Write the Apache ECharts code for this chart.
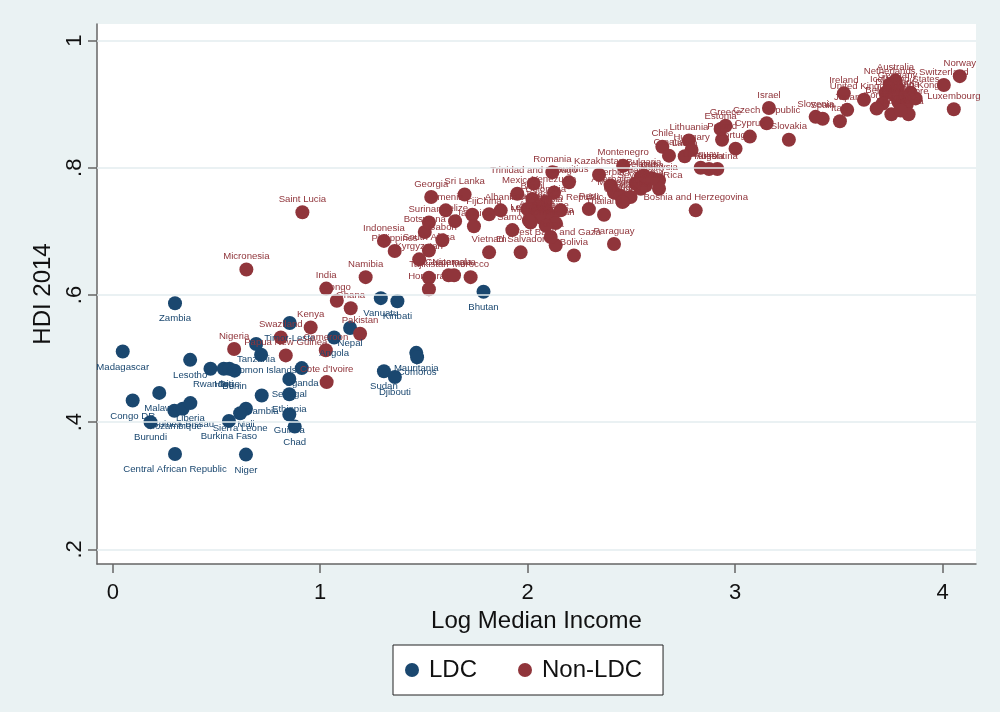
<!DOCTYPE html>
<html><head><meta charset="utf-8">
<script src="https://cdn.jsdelivr.net/npm/echarts@6/dist/echarts.min.js"></script>
<style>html,body{margin:0;padding:0;background:#EAF2F3}#c{width:1000px;height:712px}</style>
</head><body><div id="c"></div>
<script>
const xTicks = [0, 1, 2, 3, 4];
const yTicks = [0.2, 0.4, 0.6, 0.8, 1];
const seriesNames = ['LDC', 'Non-LDC'];

const ldcNames = ['Zambia','Madagascar','Lesotho','Rwanda','Haiti','Togo','Benin','Tanzania','Solomon Islands','Timor-Leste','Angola','Nepal','Uganda','Senegal','Ethiopia','Gambia','Mali','Sierra Leone','Burkina Faso','Guinea','Chad','Niger','Central African Republic','Malawi','Congo DR','Burundi','Mozambique','Guinea-Bissau','Liberia','Vanuatu','Kiribati','Mauritania','Comoros','Sudan','Djibouti','Bhutan'];
const ldcX = [0.300,0.048,0.373,0.471,0.535,0.562,0.587,0.691,0.715,0.853,1.067,1.144,0.911,0.851,0.851,0.718,0.642,0.614,0.560,0.851,0.877,0.642,0.300,0.224,0.096,0.182,0.297,0.337,0.374,1.292,1.372,1.463,1.467,1.307,1.360,1.787];
const ldcY = [0.587,0.511,0.498,0.484,0.484,0.484,0.481,0.523,0.506,0.556,0.533,0.548,0.485,0.468,0.444,0.442,0.421,0.414,0.402,0.412,0.393,0.349,0.350,0.446,0.434,0.400,0.418,0.421,0.430,0.595,0.590,0.509,0.502,0.480,0.471,0.605];

const nonNames = ['Nigeria','Swaziland','Papua New Guinea','Kenya','Cameroon',"Cote d'Ivoire",'India','Congo','Ghana','Pakistan','Namibia','Micronesia','Saint Lucia','Indonesia','Philippines','Kyrgyzstan','South Africa','Tajikistan','Honduras','Botswana','Suriname','Gabon','Georgia','Armenia','Sri Lanka','Belize','Fiji','China','Albania','Guatemala','Nicaragua','Morocco','Jamaica','Vietnam','El Salvador','Samoa','Dominican Republic','Mexico','Trinidad and Tobago','Romania','Venezuela','Mauritius','Brazil','West Bank and Gaza','Bolivia','Paraguay','Peru','Thailand','Kazakhstan','Montenegro','Serbia','Bulgaria','Malaysia','Costa Rica','Bosnia and Herzegovina','Chile','Lithuania','Hungary','Latvia','Croatia','Russia','Uruguay','Argentina','Poland','Estonia','Greece','Portugal','Cyprus','Czech Republic','Israel','Slovakia','Slovenia','Spain','Italy','Japan','Ireland','United Kingdom','Norway','Switzerland','Luxembourg','Australia','Netherlands','Germany','Denmark','United States','Canada','Sweden','Iceland','Singapore','Belgium','Austria','France','Finland','Hong Kong','Korea','Colombia','Ecuador','Jordan','Tunisia','Algeria','Egypt','Ukraine','Mongolia','Moldova','Turkmenistan','Tonga','Lebanon','Azerbaijan','Macedonia','Turkey','Iran','Belarus','Panama','Cuba','Seychelles','Barbados','Grenada'];
const nonX = [0.585,0.810,0.834,0.954,1.027,1.031,1.029,1.080,1.147,1.192,1.219,0.644,0.914,1.307,1.359,1.477,1.524,1.524,1.524,1.504,1.524,1.589,1.535,1.605,1.696,1.650,1.733,1.814,1.870,1.619,1.645,1.725,1.741,1.814,1.966,1.926,2.159,1.950,2.029,2.119,2.127,2.199,2.023,2.135,2.223,2.416,2.295,2.368,2.344,2.460,2.400,2.560,2.633,2.633,2.810,2.649,2.777,2.790,2.757,2.681,2.874,2.834,2.914,2.937,2.930,2.954,3.002,3.071,3.152,3.163,3.259,3.388,3.422,3.505,3.540,3.524,3.621,4.083,4.006,4.054,3.773,3.745,3.783,3.769,3.846,3.807,3.788,3.725,3.827,3.711,3.836,3.753,3.798,3.870,3.682,2.087,1.999,2.054,2.095,2.030,2.071,2.119,2.014,2.135,2.087,2.111,2.006,2.416,2.448,2.464,2.520,2.545,2.569,2.601,2.545,2.496,2.457];
const nonY = [0.515,0.533,0.505,0.549,0.513,0.463,0.610,0.591,0.579,0.539,0.628,0.640,0.730,0.685,0.669,0.656,0.670,0.627,0.609,0.699,0.714,0.686,0.754,0.733,0.758,0.716,0.726,0.727,0.733,0.631,0.631,0.628,0.708,0.667,0.667,0.702,0.733,0.759,0.775,0.793,0.761,0.777,0.751,0.678,0.662,0.680,0.735,0.726,0.789,0.803,0.772,0.788,0.780,0.767,0.733,0.833,0.843,0.828,0.818,0.819,0.798,0.800,0.798,0.844,0.861,0.866,0.830,0.849,0.870,0.894,0.844,0.880,0.877,0.873,0.891,0.917,0.907,0.944,0.930,0.892,0.937,0.931,0.925,0.914,0.918,0.910,0.903,0.918,0.899,0.901,0.884,0.884,0.890,0.909,0.893,0.746,0.735,0.738,0.730,0.722,0.720,0.721,0.714,0.713,0.709,0.691,0.717,0.761,0.756,0.748,0.775,0.785,0.772,0.783,0.767,0.754,0.746];

const NAVY = '#1a476f', MAROON = '#90353b';
const FONT = '"Liberation Sans", Arial, Helvetica, sans-serif';

const chart = echarts.init(document.getElementById('c'), null, {renderer: 'canvas'});
function mk(names, xs, ys) { return names.map((n, i) => [xs[i], ys[i], n]); }

chart.setOption({
  animation: false,
  backgroundColor: '#EAF2F3',
  textStyle: {fontFamily: FONT},
  grid: {left: 97, right: 24, top: 24, bottom: 148, show: true, backgroundColor: '#ffffff', borderWidth: 0, containLabel: false},
  xAxis: {
    type: 'value', min: -0.076, max: 4.161,
    name: 'Log Median Income', nameLocation: 'middle', nameGap: 44,
    nameTextStyle: {fontSize: 24, color: '#111', fontFamily: FONT},
    axisLine: {show: true, onZero: false, lineStyle: {color: '#666', width: 1.5}},
    axisTick: {show: true, customValues: xTicks, length: 9, lineStyle: {color: '#666', width: 1.5}},
    axisLabel: {customValues: xTicks, fontSize: 22, color: '#111', margin: 18, fontFamily: FONT},
    splitLine: {show: false}
  },
  yAxis: {
    type: 'value', min: 0.177, max: 1.026,
    name: 'HDI 2014', nameLocation: 'middle', nameGap: 42, nameRotate: 90,
    nameTextStyle: {fontSize: 24, color: '#111', fontFamily: FONT},
    axisLine: {show: true, onZero: false, lineStyle: {color: '#666', width: 1.5}},
    axisTick: {show: true, customValues: yTicks, length: 9, lineStyle: {color: '#666', width: 1.5}},
    axisLabel: {customValues: yTicks, fontSize: 22, color: '#111', margin: 11, rotate: 90, fontFamily: FONT,
      formatter: v => (Math.abs(v - 1) < 1e-9 ? '1' : String(+v.toFixed(1)).replace(/^0\./, '.'))},
    splitLine: {show: false}
  },
  legend: {
    data: seriesNames, left: 393, top: 645, orient: 'horizontal',
    icon: 'circle', itemWidth: 24, itemHeight: 14, itemGap: 41,
    padding: [13, 21, 13, 12],
    backgroundColor: '#ffffff', borderColor: '#222', borderWidth: 1,
    textStyle: {fontSize: 24, color: '#111', fontFamily: FONT}
  },
  series: [
    {
      type: 'scatter', name: '_grid', data: [], silent: true, z: 1,
      markLine: {silent: true, symbol: ['none', 'none'], label: {show: false},
        lineStyle: {color: '#E3EDEF', width: 1.5, type: 'solid'},
        data: yTicks.map(v => ({yAxis: v}))}
    },
    {
      type: 'scatter', name: seriesNames[0], data: mk(ldcNames, ldcX, ldcY), symbolSize: 14, z: 3,
      itemStyle: {color: NAVY, opacity: 1},
      label: {show: true, position: 'bottom', distance: 3.5, formatter: p => p.data[2], color: NAVY, fontSize: 9.6, fontFamily: FONT}
    },
    {
      type: 'scatter', name: seriesNames[1], data: mk(nonNames, nonX, nonY), symbolSize: 14, z: 3,
      itemStyle: {color: MAROON, opacity: 1},
      label: {show: true, position: 'top', distance: 1, formatter: p => p.data[2], color: MAROON, fontSize: 9.6, fontFamily: FONT}
    }
  ]
});
</script>
</body></html>
